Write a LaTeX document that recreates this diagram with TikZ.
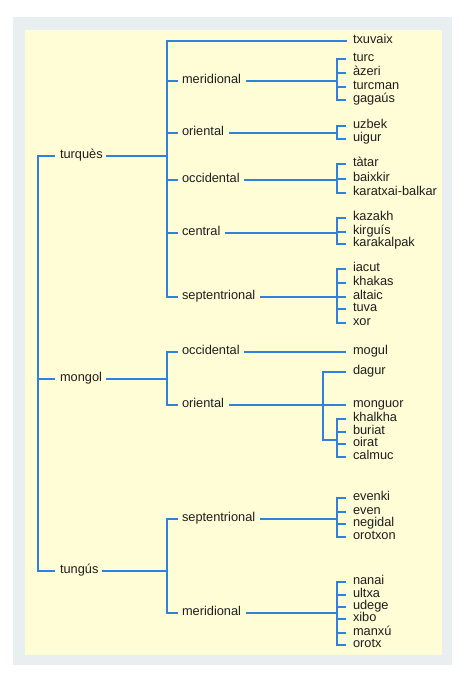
\documentclass[tikz,border=0pt]{standalone}
\usepackage{fontspec}
\setmainfont{Liberation Sans}
\definecolor{brblue}{RGB}{48,128,222}
\definecolor{bgyellow}{RGB}{255,253,214}
\definecolor{bggray}{RGB}{233,238,240}
\definecolor{txt}{RGB}{30,30,30}
\begin{document}
\begin{tikzpicture}[x=1pt,y=-1pt,
  lbl/.style={anchor=mid west,inner sep=0pt,outer sep=0pt,text=txt,font=\fontsize{12.8}{13}\selectfont},
  br/.style={draw=brblue,line width=2.8pt,line cap=rect}]
\useasboundingbox (0,0) rectangle (466,676);
\fill[bggray] (13,17) rectangle (452,665);
\fill[bgyellow] (25,30) rectangle (442,655);
\coordinate (X0) at (38,0);
\coordinate (X1) at (167,0);
\coordinate (X2) at (337,0);
\coordinate (X3) at (323,0);
% level 0
\node[lbl] (turques) at (60,156) {turquès};
\node[lbl] (mongol) at (60,379) {mongol};
\node[lbl] (tungus) at (60,571) {tungús};
% level 1
\node[lbl] (tmer) at (182,81) {meridional};
\node[lbl] (tori) at (182,133) {oriental};
\node[lbl] (tocc) at (182,180) {occidental};
\node[lbl] (tcen) at (182,233) {central};
\node[lbl] (tsep) at (182,297) {septentrional};
\node[lbl] (mocc) at (182,352) {occidental};
\node[lbl] (mori) at (182,405) {oriental};
\node[lbl] (usep) at (182,519) {septentrional};
\node[lbl] (umer) at (182,613) {meridional};
% leaves
\foreach \n/\y/\t in {txuvaix/41/txuvaix,
  turc/59/turc, azeri/73/àzeri, turcman/87/turcman, gagauz/100/gagaús,
  uzbek/126/uzbek, uigur/139/uigur,
  tatar/164/tàtar, baixkir/179/baixkir, karatxai/193/karatxai-balkar,
  kazakh/218/kazakh, kirguis/232/kirguís, karakalpak/244/karakalpak,
  iacut/269/iacut, khakas/283/khakas, altaic/297/altaic, tuva/309/tuva, xor/323/xor,
  mogul/352/mogul,
  dagur/372/dagur, monguor/405/monguor, khalkha/419/khalkha, buriat/432/buriat, oirat/444/oirat, calmuc/457/calmuc,
  evenki/498/evenki, even/512/even, negidal/524/negidal, orotxon/537/orotxon,
  nanai/582/nanai, ultxa/595/ultxa, udege/607/udege, xibo/619/xibo, manxu/633/manxú, orotx/645/orotx}
  \node[lbl] (\n) at (353,\y) {\t};
% root bracket
\draw[br] ([xshift=-6pt]turques.mid west) -- (turques.mid west -| X0) -- (tungus.mid west -| X0) -- ([xshift=-6pt]tungus.mid west);
\draw[br] ([xshift=-6pt]mongol.mid west) -- (mongol.mid west -| X0);
% level-0 to level-1 lines
\foreach \a in {turques,mongol,tungus}
  \draw[br] ([xshift=5pt]\a.mid east) -- (\a.mid east -| X1);
% turkic bracket
\draw[br] (txuvaix.mid west -| X1) -- (tsep.mid west -| X1);
\draw[br] (txuvaix.mid west -| X1) -- ([xshift=-7pt]txuvaix.mid west);
\foreach \a in {tmer,tori,tocc,tcen,tsep,mocc,mori,usep,umer}
  \draw[br] (\a.mid west -| X1) -- ([xshift=-5pt]\a.mid west);
% mongol and tungus brackets
\draw[br] (mocc.mid west -| X1) -- (mori.mid west -| X1);
\draw[br] (usep.mid west -| X1) -- (umer.mid west -| X1);
% leaf groups
\foreach \a/\f/\l/\ls in {tmer/turc/gagauz/{turc,azeri,turcman,gagauz},
  tori/uzbek/uigur/{uzbek,uigur},
  tocc/tatar/karatxai/{tatar,baixkir,karatxai},
  tcen/kazakh/karakalpak/{kazakh,kirguis,karakalpak},
  tsep/iacut/xor/{iacut,khakas,altaic,tuva,xor},
  usep/evenki/orotxon/{evenki,even,negidal,orotxon},
  umer/nanai/orotx/{nanai,ultxa,udege,xibo,manxu,orotx}}{
  \draw[br] ([xshift=6pt]\a.mid east) -- (\a.mid east -| X2);
  \draw[br] (\f.mid west -| X2) -- (\l.mid west -| X2);
  \foreach \b in \ls
    \draw[br] (\b.mid west -| X2) -- ([xshift=-8pt]\b.mid west);
}
% mongol occidental
\draw[br] ([xshift=6pt]mocc.mid east) -- ([xshift=-8pt]mogul.mid west);
% mongol oriental
\coordinate (J) at (323,440);
\draw[br] ([xshift=6pt]mori.mid east) -- ([xshift=-8pt]monguor.mid west);
\draw[br] (dagur.mid west -| X3) -- (J) -- (J -| X2);
\draw[br] (dagur.mid west -| X3) -- ([xshift=-8pt]dagur.mid west);
\draw[br] (khalkha.mid west -| X2) -- (calmuc.mid west -| X2);
\foreach \b in {khalkha,buriat,oirat,calmuc}
  \draw[br] (\b.mid west -| X2) -- ([xshift=-8pt]\b.mid west);
\end{tikzpicture}
\end{document}
